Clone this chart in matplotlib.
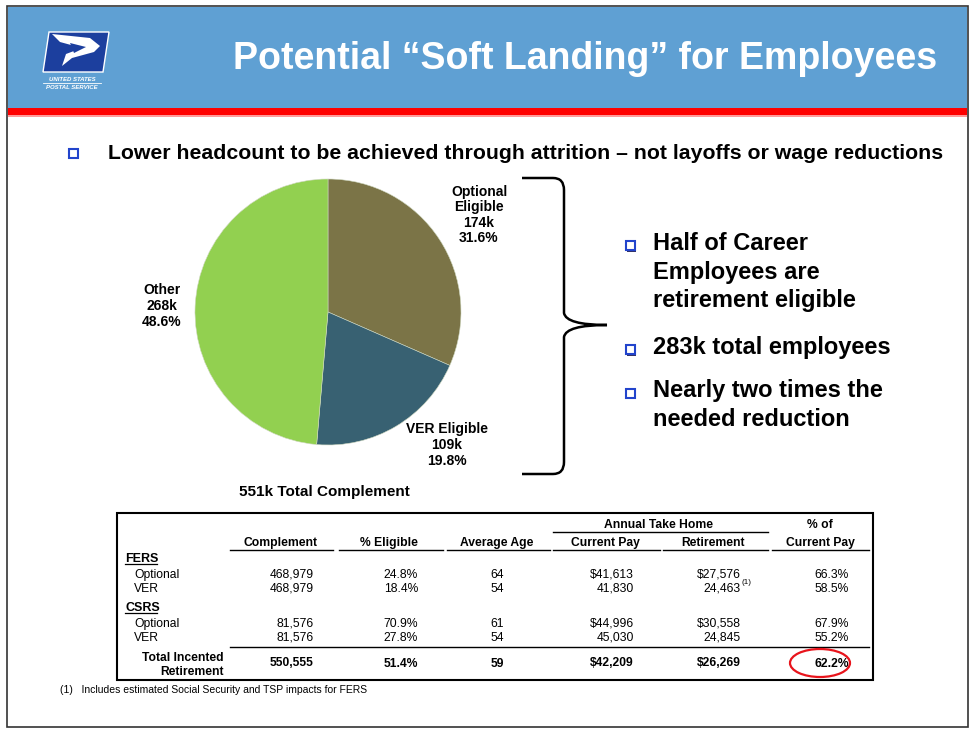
import numpy as np
import matplotlib
matplotlib.use("Agg")
import matplotlib.pyplot as plt
from matplotlib.patches import Rectangle, Polygon, Ellipse, PathPatch
from matplotlib.path import Path

plt.rcParams["font.family"] = ["Liberation Sans", "DejaVu Sans"]

W, H = 971, 729

# ---- pie data
pie_names = ["Optional\nEligible", "VER Eligible", "Other"]
pie_k = [174, 109, 268]
pie_pct = [31.6, 19.8, 48.6]
pie_colors = ["#7b7447", "#386172", "#92d050"]
total_label = "551k Total Complement"

# ---- right-hand bullets
side_bullets = ["Half of Career\nEmployees are\nretirement eligible",
                "283k total employees",
                "Nearly two times the\nneeded reduction"]

# ---- table data
col_heads = ["Complement", "% Eligible", "Average Age", "Current Pay", "Retirement", "Current Pay"]
groups = ["FERS", "CSRS"]
row_names = ["Optional", "VER", "Optional", "VER"]
complement = ["468,979", "468,979", "81,576", "81,576"]
pct_eligible = ["24.8%", "18.4%", "70.9%", "27.8%"]
avg_age = ["64", "54", "61", "54"]
current_pay = ["$41,613", "41,830", "$44,996", "45,030"]
retirement = ["$27,576", "24,463", "$30,558", "24,845"]
pct_of_pay = ["66.3%", "58.5%", "67.9%", "55.2%"]
total_row = ["550,555", "51.4%", "59", "$42,209", "$26,269", "62.2%"]

fig = plt.figure(figsize=(W / 100, H / 100), dpi=100)
ax = fig.add_axes([0, 0, 1, 1])
ax.set_xlim(0, W); ax.set_ylim(H, 0); ax.axis("off")

# slide frame, header band, red rule
ax.add_patch(Rectangle((7, 6), 961, 721, fc="white", ec="#333333", lw=1.2, zorder=0))
ax.add_patch(Rectangle((8, 7), 959, 101, fc="#5fa0d3", ec="none", zorder=1))
ax.add_patch(Rectangle((8, 108), 959, 8, fc="#ff0000", ec="none", zorder=1))
ax.add_patch(Rectangle((8, 115), 959, 1.5, fc="#ff9a9a", ec="none", zorder=1))

# rough USPS logo
ax.add_patch(Polygon([(49, 32), (109, 32), (103, 72), (43, 72)], fc="#1c3f9e", ec="white", lw=1, zorder=2))
ax.add_patch(Polygon([(52, 34), (90, 38), (100, 46), (94, 52), (72, 58), (62, 66), (66, 54), (82, 48), (60, 42)],
                     fc="white", ec="none", zorder=3))
ax.add_patch(Polygon([(70, 43), (86, 47), (74, 53)], fc="#1c3f9e", ec="none", zorder=4))
ax.text(72, 79, "UNITED STATES", color="white", fontsize=4.3, style="italic", weight="bold",
        ha="center", va="center", zorder=3)
ax.plot([43, 101], [83, 83], color="white", lw=0.6, zorder=3)
ax.text(72, 87, "POSTAL SERVICE", color="white", fontsize=4.3, style="italic", weight="bold",
        ha="center", va="center", zorder=3)

ax.text(585, 59, "Potential \u201cSoft Landing\u201d for Employees", color="white", fontsize=27,
        weight="bold", ha="center", va="center", zorder=3)


def bullet(x, y, s=9):
    ax.add_patch(Rectangle((x - s / 2 + 1.5, y - s / 2 + 1.5), s, s, fc="#333366", ec="none", zorder=3))
    ax.add_patch(Rectangle((x - s / 2, y - s / 2), s, s, fc="white", ec="#2244cc", lw=1.5, zorder=4))


bullet(73, 153)
ax.text(108, 153, "Lower headcount to be achieved through attrition \u2013 not layoffs or wage reductions",
        fontsize=15.3, weight="bold", ha="left", va="center")

# pie
pax = fig.add_axes([195 / W, 1 - 445 / H, 266 / W, 266 / H])
pax.pie(pie_k, colors=pie_colors, startangle=90, counterclock=False, radius=1,
        wedgeprops=dict(linewidth=0.4, edgecolor="#cfd8c0"))
pax.set_xlim(-1, 1); pax.set_ylim(-1, 1); pax.set_aspect("equal"); pax.axis("off")

label_pos = [(479, 215), (447, 445), (162, 306)]
for (lx, ly), nm, k, p in zip(label_pos, pie_names, pie_k, pie_pct):
    ax.text(lx, ly, f"{nm}\n{k}k\n{p:.1f}%", fontsize=10, weight="bold", ha="center", va="center",
            linespacing=1.15)
ax.text(324, 492, total_label, fontsize=11, weight="bold", ha="center", va="center")

# curly brace
verts = [(522, 178), (553, 178), (564, 178), (564, 190), (564, 313), (566, 325), (607, 325),
         (566, 325), (564, 337), (564, 462), (564, 474), (553, 474), (522, 474)]
codes = [Path.MOVETO, Path.LINETO, Path.CURVE3, Path.CURVE3, Path.LINETO, Path.CURVE3, Path.CURVE3,
         Path.CURVE3, Path.CURVE3, Path.LINETO, Path.CURVE3, Path.CURVE3, Path.LINETO]
ax.add_patch(PathPatch(Path(verts, codes), fc="none", ec="black", lw=1.8, zorder=3))

side_y = [272, 347, 405]
for y, txt in zip(side_y, side_bullets):
    n = txt.count("\n") + 1
    top = y - (n - 1) * 14.5
    bullet(630, top + 2.5)
    ax.text(653, y, txt, fontsize=17, weight="bold", ha="left", va="center", linespacing=1.28)

# table
ax.add_patch(Rectangle((117, 513), 756, 167, fc="none", ec="black", lw=1.5, zorder=3))
col_x = [281, 389, 497, 605, 713, 820]
col_span = [(230, 333), (339, 443), (447, 550), (553, 660), (663, 768), (772, 869)]
fs = 8.7
for x, (a, b), h in zip(col_x, col_span, col_heads):
    ax.text(x, 546, h, fontsize=fs, weight="bold", ha="center", va="baseline")
    ax.plot([a, b], [549.5, 549.5], color="black", lw=1)
ax.text(659, 528, "Annual Take Home", fontsize=fs, weight="bold", ha="center", va="baseline")
ax.plot([553, 768], [531.5, 531.5], color="black", lw=1)
ax.text(820, 528, "% of", fontsize=fs, weight="bold", ha="center", va="baseline")


def nudge(s):
    # glyphs with a shallow descent (comma, dollar) render a little low in Agg
    return -0.8 if ("," in s or "$" in s) else 0.0


group_y = [558, 607]
row_y = [574, 588, 623, 637]
for g, y in zip(groups, group_y):
    ax.text(125, y + 4, g, fontsize=fs + 0.3, weight="bold", ha="left", va="baseline")
    ax.plot([125, 157], [y + 6, y + 6], color="black", lw=0.9)

right_x = [314, 418, 504, 634, 741, 849]
columns = [complement, pct_eligible, avg_age, current_pay, retirement, pct_of_pay]
for i, y in enumerate(row_y):
    ax.text(134, y + 4, row_names[i], fontsize=fs, ha="left", va="baseline")
    for cx, col in zip(right_x, columns):
        ax.text(cx, y + 4 + nudge(col[i]), col[i], fontsize=fs, ha="right", va="baseline")
ax.text(742, 584, "(1)", fontsize=5.8, ha="left", va="baseline")

ax.plot([230, 869], [646.5, 646.5], color="black", lw=1)
ax.text(224, 661, "Total Incented", fontsize=fs, weight="bold", ha="right", va="baseline")
ax.text(224, 675, "Retirement", fontsize=fs, weight="bold", ha="right", va="baseline")
for cx, v in zip(right_x, total_row):
    ax.text(cx, 667 + nudge(v), v, fontsize=fs, weight="bold", ha="right", va="baseline")
ax.add_patch(Ellipse((820, 663), 60, 28, fill=False, ec="#e8141c", lw=1.6, zorder=4))

ax.text(60, 690, "(1)   Includes estimated Social Security and TSP impacts for FERS", fontsize=7.5,
        ha="left", va="center")

fig.savefig("out.png", dpi=100)
